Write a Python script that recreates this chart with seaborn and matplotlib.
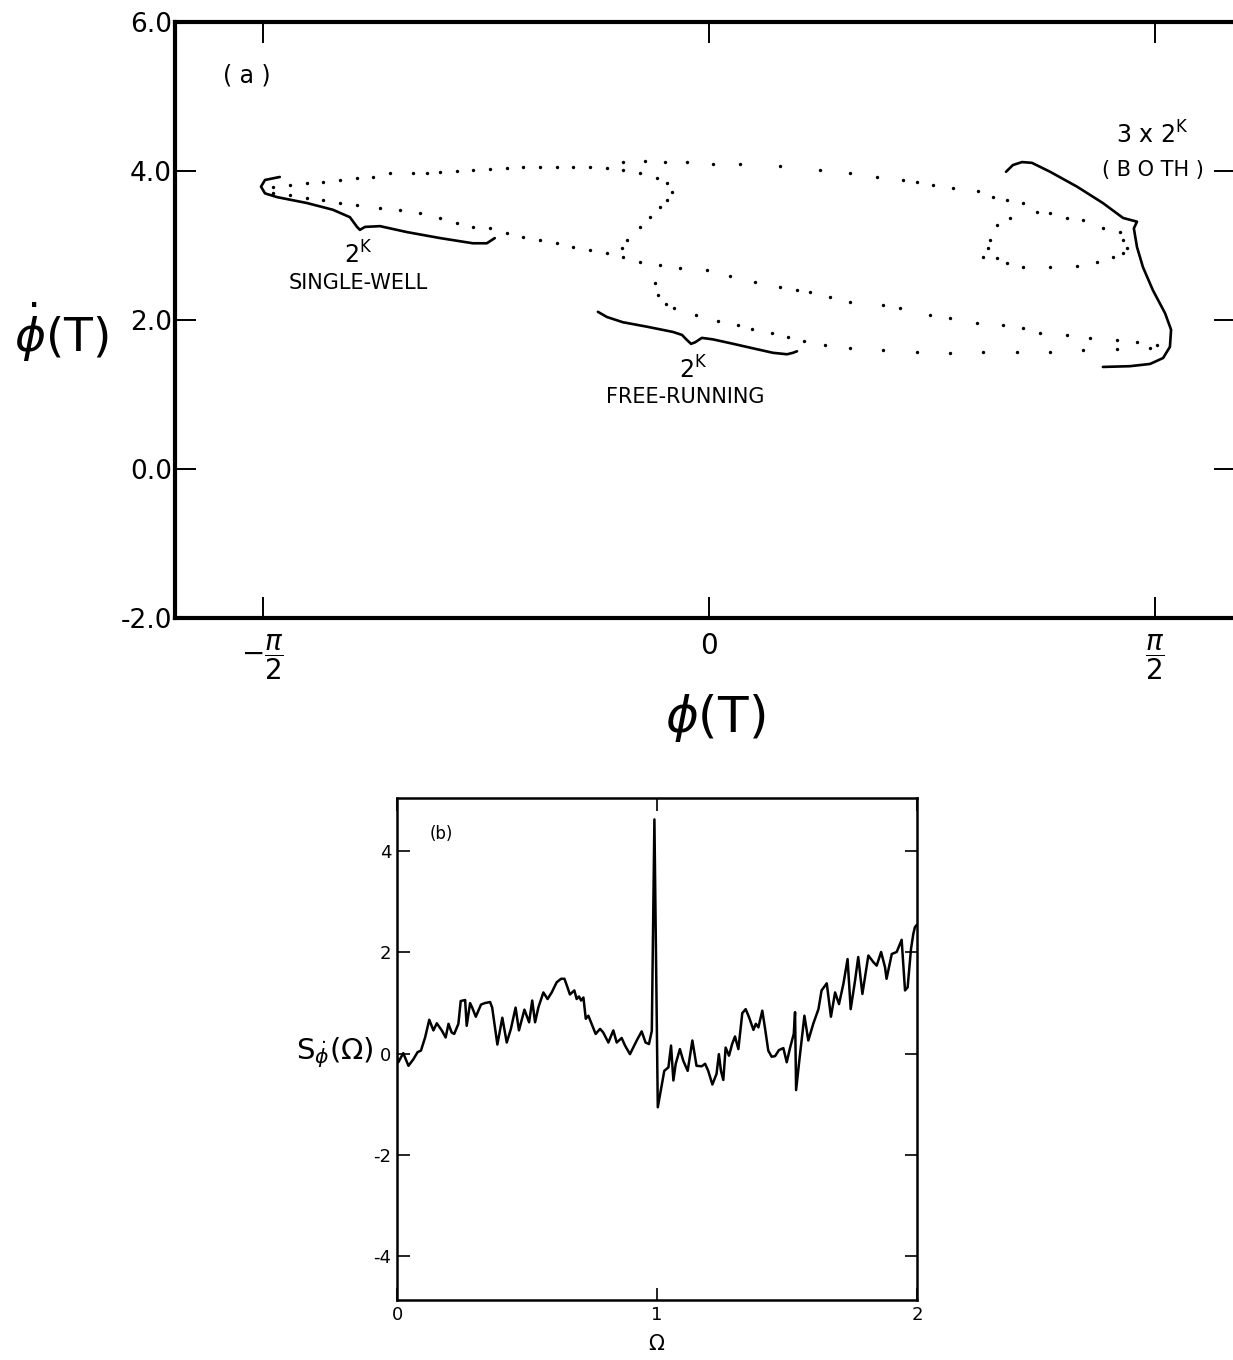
import matplotlib
matplotlib.use('Agg')
import matplotlib.pyplot as plt
import numpy as np
import pandas as pd
import seaborn as sns

# ---------------- panel (a): dotted return map ----------------
# single-well loop, upper branch
well_up_x = [-1.535, -1.475, -1.415, -1.359, -1.299, -1.239, -1.183, -1.123, -1.042, -0.993,
             -0.947, -0.887, -0.831, -0.771, -0.711, -0.655, -0.595, -0.535, -0.479, -0.419,
             -0.359, -0.303, -0.243, -0.183, -0.148, -0.130, -0.148, -0.173, -0.208, -0.243,
             -0.289, -0.306]
well_up_y = [3.79, 3.81, 3.84, 3.85, 3.88, 3.91, 3.92, 3.97, 3.97, 3.97,
             3.99, 4.00, 4.01, 4.03, 4.04, 4.05, 4.05, 4.05, 4.05, 4.05,
             4.04, 4.01, 3.97, 3.91, 3.84, 3.72, 3.61, 3.52, 3.38, 3.25,
             3.07, 2.97]
# single-well loop, lower branch (runs on into the free-running orbit)
well_lo_x = [-1.535, -1.475, -1.415, -1.359, -1.299, -1.239, -1.158, -1.088, -1.018, -0.947,
             -0.887, -0.831, -0.771, -0.711, -0.655, -0.595, -0.535, -0.479, -0.419, -0.359,
             -0.303, -0.243, -0.173, -0.102, -0.007]
well_lo_y = [3.70, 3.68, 3.64, 3.61, 3.57, 3.54, 3.50, 3.48, 3.44, 3.37,
             3.30, 3.25, 3.23, 3.17, 3.11, 3.07, 3.03, 2.98, 2.94, 2.90,
             2.85, 2.78, 2.74, 2.70, 2.67]
# free-running orbit, upper line
free_up_x = [0.074, 0.162, 0.250, 0.310, 0.356, 0.426, 0.496, 0.613, 0.673, 0.778,
             0.849, 0.944, 1.035, 1.106, 1.165, 1.261, 1.342, 1.437, 1.507, 1.577]
free_up_y = [2.59, 2.51, 2.44, 2.40, 2.38, 2.31, 2.24, 2.20, 2.16, 2.07,
             2.03, 1.96, 1.93, 1.89, 1.83, 1.80, 1.76, 1.73, 1.70, 1.66]
# free-running orbit, lower line
free_lo_x = [-0.190, -0.180, -0.151, -0.123, -0.046, 0.032, 0.102, 0.151, 0.222, 0.278,
             0.335, 0.408, 0.496, 0.613, 0.732, 0.849, 0.965, 1.085, 1.201, 1.317,
             1.437, 1.553]
free_lo_y = [2.50, 2.34, 2.21, 2.16, 2.07, 1.99, 1.93, 1.88, 1.83, 1.77,
             1.72, 1.66, 1.62, 1.60, 1.57, 1.56, 1.57, 1.57, 1.57, 1.60,
             1.61, 1.62]
# big arc over the top and the small loop on the right ("both")
arc_x = [-0.303, -0.225, -0.155, -0.077, 0.014, 0.109, 0.250, 0.391, 0.496, 0.592,
         0.683, 0.732, 0.789, 0.859, 0.947, 1.000, 1.049, 1.106, 1.155, 1.201,
         1.261, 1.317, 1.387, 1.447, 1.458, 1.472, 1.458, 1.423, 1.366, 1.296,
         1.201, 1.106, 1.049, 1.014, 0.965, 0.982, 0.989, 1.014, 1.060]
arc_y = [4.12, 4.13, 4.12, 4.12, 4.09, 4.09, 4.07, 4.01, 3.97, 3.92,
         3.88, 3.85, 3.81, 3.77, 3.73, 3.65, 3.61, 3.57, 3.45, 3.44,
         3.37, 3.34, 3.23, 3.18, 3.07, 2.97, 2.90, 2.85, 2.78, 2.72,
         2.71, 2.71, 2.77, 2.83, 2.85, 2.97, 3.07, 3.28, 3.37]

# braces drawn on the figure
brace_well_x = [-1.511, -1.563, -1.577, -1.563, -1.521, -1.415, -1.324, -1.264, -1.239, -1.229,
                -1.211, -1.158, -1.063, -0.947, -0.831, -0.782, -0.754]
brace_well_y = [3.92, 3.88, 3.79, 3.70, 3.65, 3.57, 3.48, 3.38, 3.25, 3.21,
                3.25, 3.26, 3.18, 3.10, 3.03, 3.03, 3.10]
brace_free_x = [-0.391, -0.359, -0.303, -0.218, -0.127, -0.095, -0.077, -0.063, -0.049, -0.025,
                0.014, 0.074, 0.155, 0.225, 0.275, 0.296, 0.310]
brace_free_y = [2.11, 2.04, 1.97, 1.91, 1.84, 1.80, 1.73, 1.68, 1.70, 1.76,
                1.74, 1.69, 1.62, 1.56, 1.54, 1.56, 1.58]
brace_both_x = [1.046, 1.070, 1.102, 1.137, 1.201, 1.296, 1.387, 1.458, 1.507, 1.496,
                1.507, 1.528, 1.563, 1.606, 1.627, 1.623, 1.599, 1.553, 1.482, 1.387]
brace_both_y = [3.99, 4.08, 4.12, 4.11, 3.99, 3.79, 3.57, 3.37, 3.32, 3.23,
                2.98, 2.71, 2.40, 2.09, 1.87, 1.64, 1.49, 1.41, 1.38, 1.37]

a_yticks = [-2, 0, 2, 4, 6]
a_ytick_labels = ['-2.0', '0.0', '2.0', '4.0', '6.0']
a_xticks = [-np.pi / 2, 0, np.pi / 2]
a_xtick_labels = [r'$-\dfrac{\pi}{2}$', '0', r'$\dfrac{\pi}{2}$']

# ---------------- panel (b): spectrum ----------------
omega = [0.000, 0.005, 0.024, 0.044, 0.063, 0.079, 0.092, 0.108, 0.124, 0.140,
         0.153, 0.172, 0.187, 0.198, 0.210, 0.220, 0.236, 0.245, 0.262, 0.268,
         0.281, 0.290, 0.303, 0.323, 0.338, 0.358, 0.366, 0.386, 0.405, 0.422,
         0.438, 0.456, 0.469, 0.490, 0.508, 0.520, 0.531, 0.544, 0.563, 0.579,
         0.595, 0.614, 0.631, 0.644, 0.653, 0.665, 0.682, 0.691, 0.700, 0.708,
         0.717, 0.726, 0.736, 0.746, 0.764, 0.781, 0.793, 0.813, 0.832, 0.845,
         0.864, 0.877, 0.896, 0.922, 0.941, 0.956, 0.969, 0.980, 0.990, 1.003,
         1.012, 1.028, 1.044, 1.054, 1.063, 1.072, 1.088, 1.101, 1.118, 1.136,
         1.152, 1.172, 1.185, 1.197, 1.213, 1.229, 1.238, 1.246, 1.255, 1.264,
         1.277, 1.289, 1.300, 1.313, 1.328, 1.341, 1.354, 1.371, 1.380, 1.390,
         1.405, 1.415, 1.428, 1.441, 1.454, 1.469, 1.486, 1.499, 1.512, 1.526,
         1.531, 1.535, 1.546, 1.567, 1.582, 1.601, 1.621, 1.633, 1.653, 1.669,
         1.685, 1.700, 1.717, 1.733, 1.745, 1.762, 1.774, 1.790, 1.813, 1.832,
         1.845, 1.862, 1.877, 1.883, 1.903, 1.922, 1.941, 1.954, 1.964, 1.977,
         1.986, 1.992, 2.000]
spectrum = [-0.07, -0.17, 0.01, -0.24, -0.11, 0.03, 0.06, 0.32, 0.67, 0.46,
            0.60, 0.46, 0.32, 0.59, 0.42, 0.39, 0.59, 1.04, 1.06, 0.55,
            1.00, 0.90, 0.73, 0.97, 1.00, 1.02, 0.91, 0.18, 0.71, 0.22,
            0.49, 0.91, 0.46, 0.87, 0.62, 1.05, 0.62, 0.92, 1.21, 1.08,
            1.21, 1.41, 1.48, 1.48, 1.35, 1.17, 1.25, 1.08, 1.13, 1.05,
            1.11, 0.69, 0.75, 0.62, 0.39, 0.49, 0.42, 0.22, 0.46, 0.22,
            0.31, 0.16, -0.01, 0.26, 0.44, 0.22, 0.19, 0.45, 4.63, -1.06,
            -0.80, -0.34, -0.27, 0.16, -0.53, -0.20, 0.09, -0.14, -0.34, 0.26,
            -0.24, -0.25, -0.20, -0.34, -0.61, -0.40, -0.01, -0.34, -0.52, 0.12,
            -0.04, 0.19, 0.34, 0.09, 0.80, 0.88, 0.72, 0.47, 0.59, 0.52,
            0.85, 0.52, 0.06, -0.06, -0.05, 0.07, 0.11, -0.17, 0.12, 0.39,
            0.82, -0.72, -0.20, 0.75, 0.26, 0.59, 0.88, 1.25, 1.39, 0.73,
            1.21, 0.98, 1.38, 1.87, 0.88, 1.45, 1.91, 1.18, 1.94, 1.81,
            1.74, 2.01, 1.71, 1.48, 1.97, 2.01, 2.25, 1.25, 1.31, 2.07,
            2.37, 2.50, 2.55]

b_yticks = [-4, -2, 0, 2, 4]
b_xticks = [0, 1, 2]

sns.set_theme(style='ticks')
plt.rcParams['font.family'] = ['DejaVu Sans']
plt.rcParams['mathtext.fontset'] = 'dejavusans'
plt.rcParams['text.color'] = 'black'
plt.rcParams['axes.labelcolor'] = 'black'
plt.rcParams['xtick.color'] = 'black'
plt.rcParams['ytick.color'] = 'black'

fig = plt.figure(figsize=(12.33, 13.6), dpi=100)

# ---- (a) ----
ax = fig.add_axes([0.1419, 0.5456, 0.8597, 0.4382])
dots = pd.DataFrame({
    'phi': well_up_x + well_lo_x + free_up_x + free_lo_x + arc_x,
    'phidot': well_up_y + well_lo_y + free_up_y + free_lo_y + arc_y,
})
sns.scatterplot(data=dots, x='phi', y='phidot', color='black', s=6, linewidth=0, ax=ax)

for bx, by in [(brace_well_x, brace_well_y), (brace_free_x, brace_free_y),
               (brace_both_x, brace_both_y)]:
    ax.plot(bx, by, color='black', lw=1.9, solid_capstyle='round', solid_joinstyle='round')

ax.set_xlim(-1.880, 1.852)
ax.set_ylim(-2.0, 6.0)
ax.set_xticks(a_xticks)
ax.set_xticklabels(a_xtick_labels, fontsize=20)
ax.set_yticks(a_yticks)
ax.set_yticklabels(a_ytick_labels, fontsize=19)
ax.tick_params(direction='in', length=15, width=1.4, top=True, right=True,
               labelright=False, labeltop=False, color='black')
ax.tick_params(axis='y', pad=2)
ax.tick_params(axis='x', pad=10)
for s in ax.spines.values():
    s.set_linewidth(3)
    s.set_color('black')

ax.set_xlabel(r'$\phi$(T)', fontsize=36, va='center')
ax.xaxis.set_label_coords(0.51, -0.168)
ax.set_ylabel(r'$\dot{\phi}$(T)', fontsize=34, rotation=0, va='center', ha='center')
ax.yaxis.set_label_coords(-0.107, 0.48)

ax.text(-1.627, 5.28, '( a )', fontsize=17, ha='center', va='center')
ax.text(-1.236, 2.87, r'2$^{\mathrm{K}}$', fontsize=17, ha='center', va='center')
ax.text(-1.236, 2.50, 'SINGLE-WELL', fontsize=15, ha='center', va='center')
ax.text(-0.056, 1.33, r'2$^{\mathrm{K}}$', fontsize=17, ha='center', va='center')
ax.text(-0.085, 0.97, 'FREE-RUNNING', fontsize=15, ha='center', va='center')
ax.text(1.56, 4.48, r'3 x 2$^{\mathrm{K}}$', fontsize=17, ha='center', va='center')
ax.text(1.563, 4.01, '( B O TH )', fontsize=15, ha='center', va='center')

# ---- (b) ----
bx_ = fig.add_axes([0.322, 0.0441, 0.4217, 0.369])
spec = pd.DataFrame({'omega': omega, 'S': spectrum})
sns.lineplot(data=spec, x='omega', y='S', color='black', lw=1.8,
             estimator=None, sort=False, ax=bx_)
bx_.set_xlim(0, 2)
bx_.set_ylim(-4.87, 5.05)
bx_.set_xticks(b_xticks)
bx_.set_xticklabels([str(v) for v in b_xticks], fontsize=13)
bx_.set_yticks(b_yticks)
bx_.set_yticklabels([str(v) for v in b_yticks], fontsize=13)
bx_.tick_params(direction='in', length=9, width=1.2, top=True, right=True,
                labelright=False, labeltop=False, color='black', pad=4)
for s in bx_.spines.values():
    s.set_linewidth(1.8)
    s.set_color('black')
bx_.set_xlabel(r'$\Omega$', fontsize=15, va='center')
bx_.xaxis.set_label_coords(0.5, -0.088)
bx_.set_ylabel(r'S$_{\dot{\phi}}$($\Omega$)', fontsize=21, rotation=0, ha='right', va='center')
bx_.yaxis.set_label_coords(-0.045, 0.492)
bx_.text(0.17, 4.35, '(b)', fontsize=12, ha='center', va='center')

fig.savefig('out.png', dpi=100, facecolor='white')
